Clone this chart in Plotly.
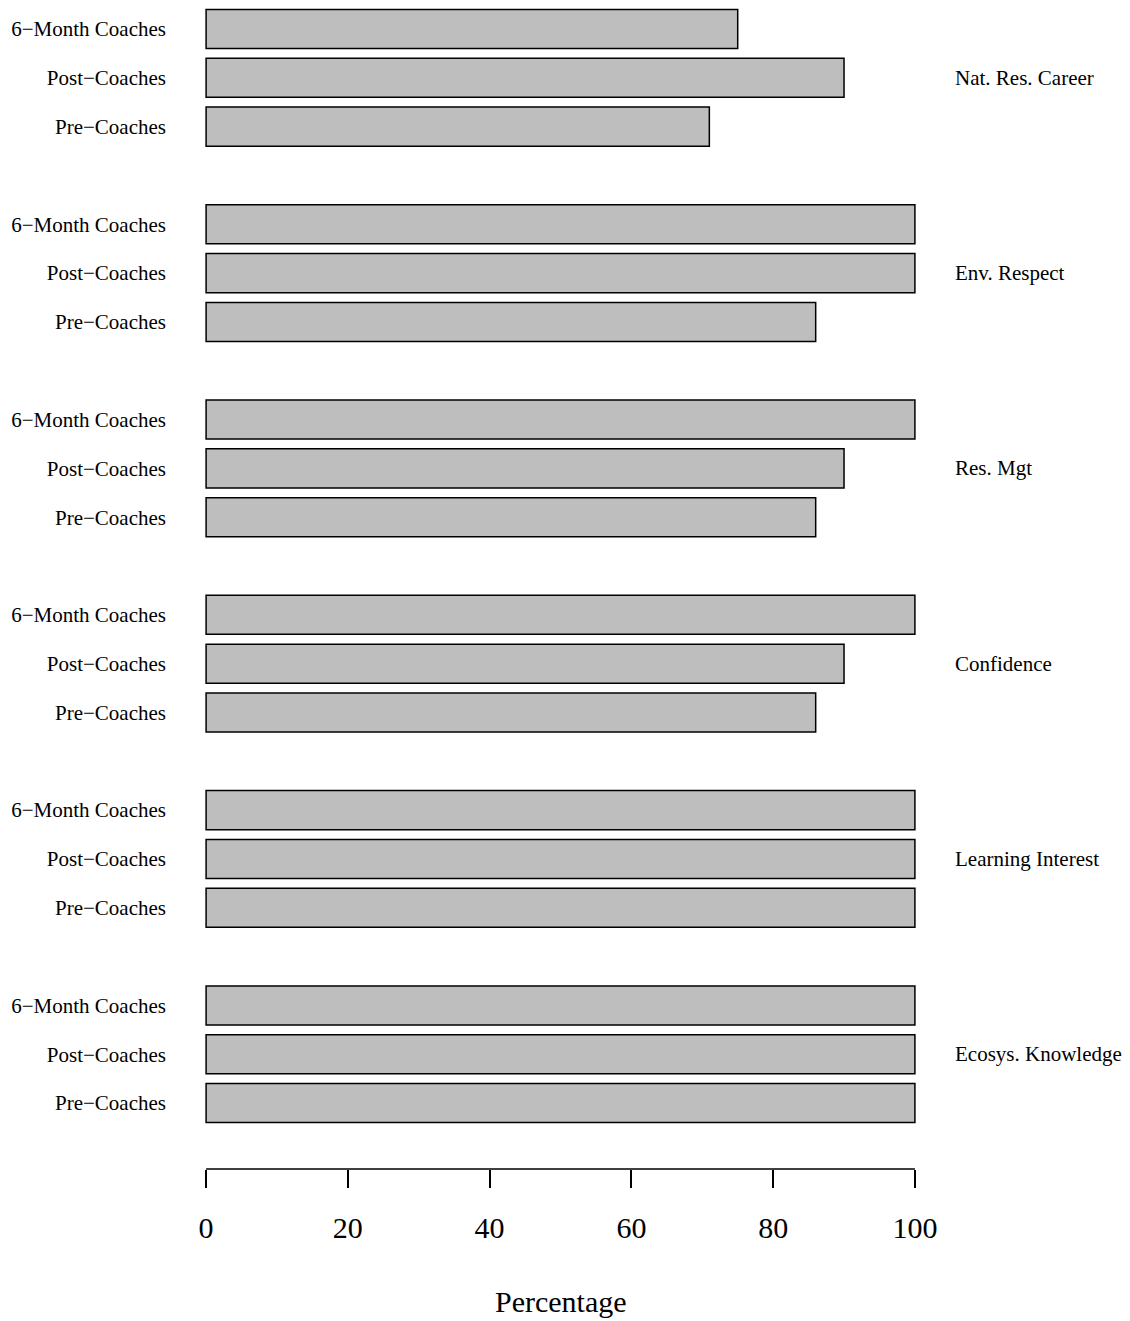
import plotly.graph_objects as go

# Groups from top to bottom
groups = ["Nat. Res. Career", "Env. Respect", "Res. Mgt", "Confidence",
          "Learning Interest", "Ecosys. Knowledge"]
series = ["Pre\u2212Coaches", "Post\u2212Coaches", "6\u2212Month Coaches"]
pre_coaches = [71, 86, 86, 86, 100, 100]
post_coaches = [90, 100, 90, 90, 100, 100]
six_month = [75, 100, 100, 100, 100, 100]
x_ticks = [0, 20, 40, 60, 80, 100]

FONT = "Liberation Serif, Times New Roman, serif"

W, H = 1130, 1321
L, PW = 198.9, 723.2
PH = 1169

ng = len(groups)
ys, xs, labels = [], [], []
group_centers = []
for gi, g in enumerate(groups):
    base = (ng - 1 - gi) * 4  # slot index of bottom bar in the group
    vals = [pre_coaches[gi], post_coaches[gi], six_month[gi]]
    for si in range(3):
        ys.append(base + si)
        xs.append(vals[si])
        labels.append(series[si])
    group_centers.append(base + 1)

fig = go.Figure()
fig.add_trace(go.Bar(
    x=xs, y=ys, orientation="h", width=0.8,
    marker=dict(color="#bebebe", line=dict(color="black", width=1.5)),
    showlegend=False, hoverinfo="x+text", text=labels, textposition="none",
))

for gi, g in enumerate(groups):
    fig.add_annotation(x=(953 - L) / PW, xref="paper", y=group_centers[gi], yref="y",
                       text=g, showarrow=False, xanchor="left", yanchor="middle",
                       font=dict(family=FONT, size=21, color="black"))

fig.add_annotation(x=50, xref="x", y=-(1302 - PH) / PH, yref="paper",
                   text="Percentage", showarrow=False, xanchor="center", yanchor="middle",
                   font=dict(family=FONT, size=30, color="black"))

fig.add_shape(type="line", x0=0, x1=100, xref="x", y0=0, y1=0, yref="paper",
              line=dict(color="black", width=1.5))

fig.update_layout(
    width=W, height=H,
    margin=dict(l=L, r=W - L - PW, t=0, b=H - PH, pad=0),
    plot_bgcolor="white", paper_bgcolor="white",
    font=dict(family=FONT, color="black"),
    xaxis=dict(range=[-1, 101], tickvals=x_ticks, ticks="outside", ticklen=18,
               tickwidth=1.5, tickcolor="black", showline=False, showgrid=False,
               zeroline=False, tickfont=dict(family=FONT, size=30, color="black"),
               ticklabelstandoff=14),
    yaxis=dict(range=[-1.351, 22.594], tickvals=ys, ticktext=labels, ticks="",
               showline=False, showgrid=False, zeroline=False,
               tickfont=dict(family=FONT, size=21, color="black"),
               ticklabelstandoff=32),
)

fig.write_html("out.html",
               config={"displayModeBar": False},
               post_script="document.body.style.margin='0';"
                           "document.body.style.overflow='hidden';")
